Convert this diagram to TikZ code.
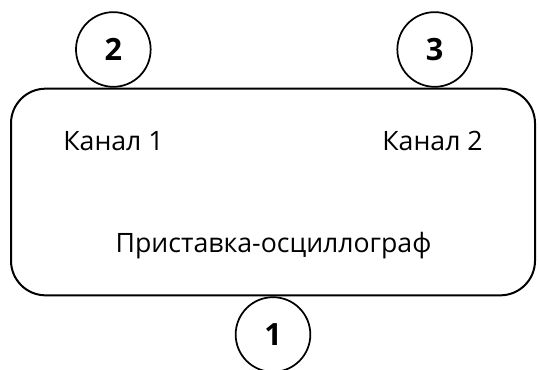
\documentclass[tikz,border=0pt]{standalone}
\usepackage{fontspec}
\setmainfont{Open Sans}
\usepackage{tikz}
\usetikzlibrary{positioning}
\tikzstyle{port}=[draw,fill=white,circle,line width=1.3pt,minimum size=56pt,inner sep=0pt,font=\fontsize{23}{25}\selectfont\bfseries]

\begin{document}
\begin{tikzpicture}[
  x=0.75pt,y=0.75pt,
  box/.style={
    draw,
    line width=1.5pt,
    rounded corners=26pt,
    minimum width=393pt,
    minimum height=155pt
    },
  label/.style={anchor=base,font=\fontsize{20}{23}\selectfont}
]
\useasboundingbox (0,0) rectangle (538,369);
\node [box] (osc) at (273,177) {};
\node [port, above=0pt of osc.north west, xshift=77.5pt] (p2) {2};
\node [port, above=0pt of osc.north east, xshift=-76pt] (p3) {3};
\node [port, below=0pt of osc.south] (p1) {1};
\node [label] (ch1) at (113.5,219) {Канал 1};
\node [label] (ch2) at (432.5,219) {Канал 2};
\node [label] (name) at (273.5,117) {Приставка-осциллограф};
\end{tikzpicture}
\end{document}
